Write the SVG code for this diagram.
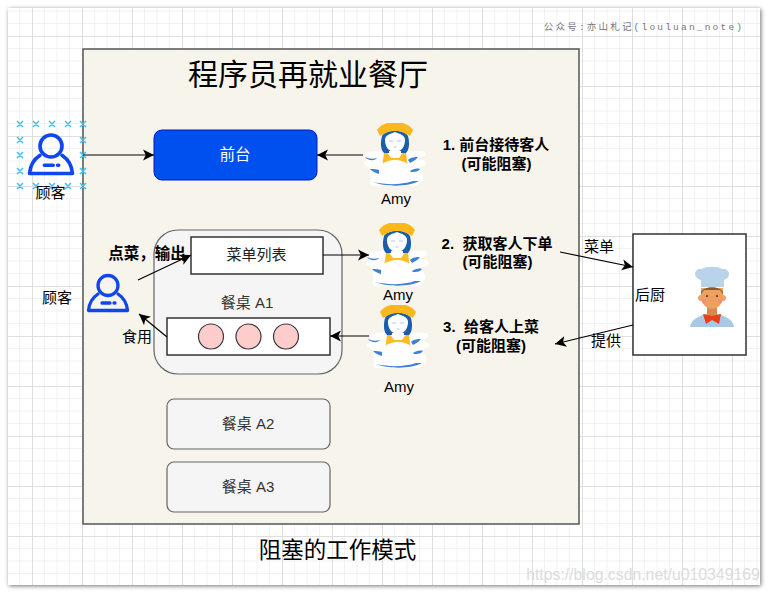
<svg xmlns="http://www.w3.org/2000/svg" width="769" height="593" viewBox="0 0 769 593">
<style>
text{font-family:"Liberation Sans","Noto Sans CJK SC",sans-serif;fill:#000;text-anchor:middle;font-size:15px;white-space:pre}
.b{font-weight:bold}
.box{fill:#fff;stroke:#333;stroke-width:1.5}
.tbl{fill:#f5f5f5;stroke:#666;stroke-width:1.2}
.c{stroke:#000;stroke-width:1.2;fill:none;marker-end:url(#a)}
.p{fill:#ffcccc;stroke:#36393d;stroke-width:1.2}
.x{stroke:#3fc1f2;stroke-width:1.5}
</style>
<defs>
<marker id="a" markerWidth="12" markerHeight="12" refX="11" refY="6" orient="auto" markerUnits="userSpaceOnUse"><path d="M0 .5L11 6L0 11.500L2.800 6Z" fill="#000"/></marker>
<pattern id="g" width="50" height="50" patternUnits="userSpaceOnUse" patternTransform="translate(32 36)">
<path d="M12.500 0V50M25 0V50M37.500 0V50M0 12.500H50M0 25H50M0 37.500H50" stroke="#f2f2f2" fill="none"/>
<path d="M.5 0V50M0 .5H50" stroke="#dedede" fill="none"/>
</pattern>
<filter id="s" x="-2%" y="-2%" width="104%" height="104%"><feDropShadow dx="1" dy="1" stdDeviation="2" flood-color="#000" flood-opacity=".55"/></filter>
<g id="person" fill="none" stroke="#0f46f0" stroke-width="3.300" stroke-linecap="round" stroke-linejoin="round">
<circle cx="0" cy="-10.500" r="10"/>
<path d="M-10 -2C-16 2 -19 8 -19.500 14.500H19.500C19 8 16 2 10 -2"/>
<path d="M-6 7H2M6 7H7"/>
</g>
<g id="amy">
<path d="M-28 -10C-28 -15 -22 -15 -16 -15H26C32 -15 32 -10 26 -9C22 -8 24 -7 27 -6C33 -6 33 0 27 0C24 1 24 3 26 5C30 12 28 16 24 17C24 21 18 20 14 20H-18C-24 21 -26 18 -24 14C-24 10 -26 6 -23 2C-30 1 -33 -3 -29 -5C-26 -6 -26 -8 -28 -10Z" fill="#fff"/>
<path d="M-13 -30C-15 -22 -14 -16 -11 -13H-6V-15H6V-13H11C14 -16 15 -22 13 -30C9 -37 -9 -37 -13 -30Z" fill="#1c5fa8"/>
<path d="M-10 -26C-10 -19 -6 -14 0 -14C6 -14 10 -19 10 -26C10 -31 5 -32 0 -34C-5 -32 -10 -31 -10 -26Z" fill="#fff"/>
<path d="M-11 -13L-13 2H13L11 -13H7.500L4 -8H-4L-7.500 -13Z" fill="#fbbc25"/>
<path d="M-16 1C-12 -4 -6 -6 0 -6C6 -6 12 -4 16 1C19 6 18 12 16 15H-16C-18 12 -19 6 -16 1Z" fill="#fff"/>
<path d="M-18 -36C-14 -41 -10 -43 -6 -43H6C10 -43 14 -41 18 -36L15 -30C9 -34 4 -35 0 -35C-4 -35 -9 -34 -15 -30Z" fill="#fbb81c"/>
<path d="M-6 -25H-2M2 -25H6M-1.500 -19H1.500" stroke="#a9c4e4" stroke-width=".9" fill="none"/>
<path d="M-30 -9C-26 -7 -22 -7 -18 -8C-20 -5 -27 -5 -30 -9ZM13 -6C16 -9 20 -9 23 -9C21 -6 18 -5 15 -3ZM-25 3C-22 3 -18 3 -16 4L-16 8C-19 7 -22 6 -25 3ZM15 5C18 3 22 2 25 3C23 6 19 6 16 6ZM-22 16C-8 19 6 19 18 15L24 15C14 21 -10 21 -22 16Z" fill="#3f7fd6"/>
</g>
</defs>
<rect x="8" y="8" width="752" height="577" fill="#fff" filter="url(#s)"/>
<rect x="8" y="8" width="752" height="577" fill="url(#g)"/>
<text x="644" y="30" style="font-family:'Liberation Mono','Noto Sans CJK SC',monospace;font-size:9.500px;letter-spacing:2.200px;fill:#777">公众号:亦山札记(louluan_note)</text>
<text x="643" y="580" style="font-size:15.800px;fill:#dcdcdc">https://blog.csdn.net/u010349169</text>

<g id="restaurant">
<rect x="83" y="49" width="496" height="475" fill="#f7f4ec" stroke="#555" stroke-width="1.500"/>
<text x="308" y="85" style="font-size:30px">程序员再就业餐厅</text>
</g>
<text id="caption" x="337.500" y="558" style="font-size:22.500px">阻塞的工作模式</text>

<g id="customer1">
<path class="x" fill="none" d="M17 121l6 6m0-6l-6 6M33 121l6 6m0-6l-6 6M49 121l6 6m0-6l-6 6M65 121l6 6m0-6l-6 6M80 121l6 6m0-6l-6 6M17 137l6 6m0-6l-6 6M80 137l6 6m0-6l-6 6M17 152l6 6m0-6l-6 6M80 152l6 6m0-6l-6 6M17 168l6 6m0-6l-6 6M80 168l6 6m0-6l-6 6M17 183l6 6m0-6l-6 6M33 183l6 6m0-6l-6 6M49 183l6 6m0-6l-6 6M65 183l6 6m0-6l-6 6M80 183l6 6m0-6l-6 6"/>
<use href="#person" transform="translate(51 157.500) scale(1.100)"/>
<text x="50.500" y="198">顾客</text>
</g>
<g id="customer2">
<use href="#person" x="108" y="296"/>
<text x="57" y="303">顾客</text>
</g>
<g id="frontdesk">
<rect x="154" y="130" width="163" height="50" rx="8" fill="#0050ef" stroke="#001dbc"/>
<text x="235" y="160" style="fill:#fff;font-size:15.500px">前台</text>
</g>
<g id="tableA1">
<rect class="tbl" x="154" y="230" width="188" height="144" rx="24"/>
<text x="247" y="308" style="fill:#333">餐桌 A1</text>
</g>
<g id="menu">
<rect class="box" x="191" y="237" width="132" height="37"/>
<text x="256.500" y="260" style="fill:#222">菜单列表</text>
</g>
<g id="seats">
<rect class="box" x="167" y="318" width="163" height="37"/>
<circle class="p" cx="211" cy="336.500" r="12.500"/>
<circle class="p" cx="248.500" cy="336.500" r="12.500"/>
<circle class="p" cx="286" cy="336.500" r="12.500"/>
</g>
<g id="tableA2">
<rect class="tbl" x="167" y="399" width="163" height="50" rx="7"/>
<text x="248" y="429" style="fill:#333">餐桌 A2</text>
</g>
<g id="tableA3">
<rect class="tbl" x="167" y="462" width="163" height="50" rx="7"/>
<text x="248" y="492" style="fill:#333">餐桌 A3</text>
</g>
<g id="amy1"><use href="#amy" x="395" y="166"/><text x="396" y="204">Amy</text></g>
<g id="amy2"><use href="#amy" x="397" y="266"/><text x="398" y="300">Amy</text></g>
<g id="amy3"><use href="#amy" x="398" y="348"/><text x="399" y="392">Amy</text></g>
<g id="kitchen">
<rect class="box" x="633" y="234" width="113" height="121"/>
<text x="650" y="300">后厨</text>
<path d="M690 327C691 320 698 316 706 314H718C726 316 733 320 734 327Z" fill="#a8c8e6"/>
<path d="M707 302H717V316H707Z" fill="#d78a4d"/>
<path d="M703 314L712 316L721 314L719 324L712 320L706 324Z" fill="#e8401c"/>
<circle cx="701" cy="298" r="3" fill="#f0a070"/><circle cx="723" cy="298" r="3" fill="#f0a070"/>
<path d="M701 288H723V298C723 304 717 309 712 309C707 309 701 304 701 298Z" fill="#eda05f"/>
<path d="M701 294C700 285 724 285 723 294L720 290H704Z" fill="#8b5a2b"/>
<path d="M701 287V280C692 277 694 268 702 269C706 266 718 266 722 269C730 268 732 277 724 280V287Z" fill="#b9d3ea"/>
<circle cx="707" cy="296" r="1" fill="#333"/><circle cx="717" cy="296" r="1" fill="#333"/>
<circle cx="704" cy="301" r="2" fill="#f08c7a"/><circle cx="720" cy="301" r="2" fill="#f08c7a"/>
</g>
<g id="connectors">
<path class="c" d="M83 155H154"/>
<path class="c" d="M363 155H317"/>
<path class="c" d="M138 280L191 255"/>
<path class="c" d="M323 255H369"/>
<path class="c" d="M167 337L139 314"/>
<path class="c" d="M369 336H330"/>
<path class="c" d="M560 252L633 267"/>
<path class="c" d="M633 325L555 344"/>
</g>
<g id="labels">
<text class="b" x="496" y="150">1. 前台接待客人</text>
<text class="b" x="496.500" y="169">(可能阻塞)</text>
<text class="b" x="497" y="249">2.  获取客人下单</text>
<text class="b" x="497.500" y="267">(可能阻塞)</text>
<text class="b" x="491" y="332">3.  给客人上菜</text>
<text class="b" x="491" y="351">(可能阻塞)</text>
<text class="b" x="147" y="259" style="font-size:15.500px">点菜，输出</text>
<text x="137" y="342">食用</text>
<text x="599" y="252">菜单</text>
<text x="606" y="346">提供</text>
</g>
</svg>
